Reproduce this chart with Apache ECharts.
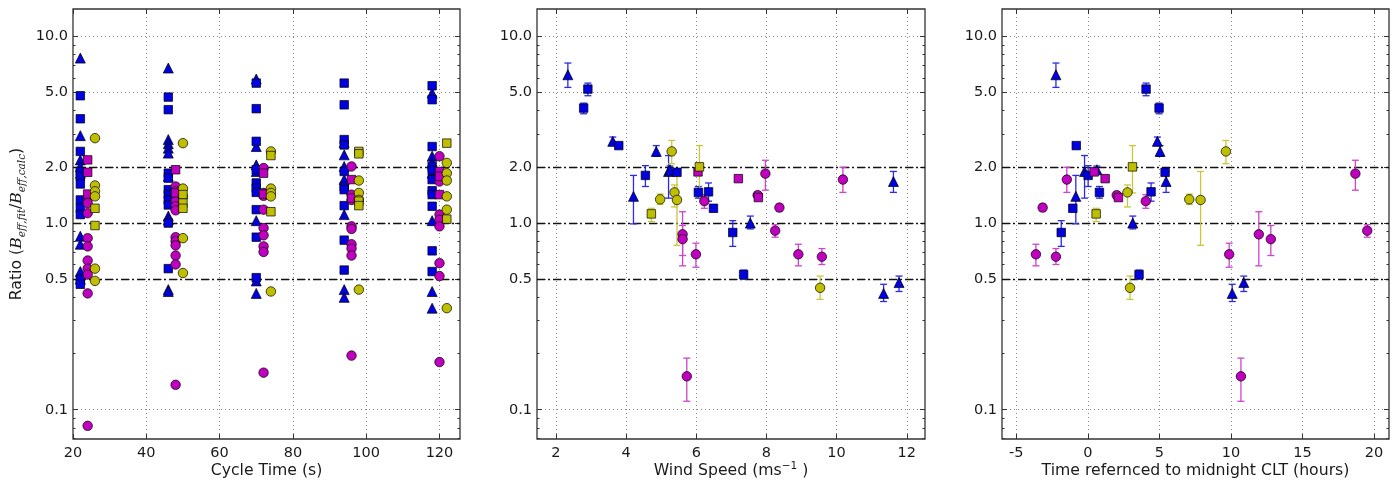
<!DOCTYPE html>
<html><head><meta charset="utf-8">
<script src="https://cdn.jsdelivr.net/npm/echarts@6/dist/echarts.min.js"></script>
<style>html,body{margin:0;padding:0;background:#fff}#c{width:1400px;height:483px}</style>
</head><body><div id="c"></div>
<script>
// ---------- axis ticks ----------
const yTicks = [0.1, 0.5, 1, 2, 5, 10];
const yMinorTicks = [0.07, 0.08, 0.09, 0.2, 0.3, 0.4, 0.6, 0.7, 0.8, 0.9, 3, 4, 6, 7, 8, 9];
const refLines = [0.5, 1, 2];
const cycleTicks = [20, 40, 60, 80, 100, 120];
const windTicks = [2, 4, 6, 8, 10, 12];
const timeTicks = [-5, 0, 5, 10, 15, 20];

// ---------- panel 1: cycle time (s) vs ratio : [cycle, ratio] ----------
const cycleBlueTri = [
  [22,7.65],[22,2.94],[22,2.18],[22,2.01],[22,1.85],[22,0.85],[22,0.77],[22,0.55],[22,0.50],
  [46,6.77],[46,2.80],[46,2.66],[46,2.52],[46,2.37],[46,1.78],[46,1.09],[46,1.04],[46,0.44],[46,0.43],
  [70,5.91],[70,2.57],[70,2.05],[70,1.89],[70,1.03],[70,0.49],[70,0.42],
  [94,2.70],[94,2.32],[94,2.01],[94,1.71],[94,1.11],[94,0.44],[94,0.40],
  [118,4.97],[118,2.28],[118,2.10],[118,1.85],[118,1.03],[118,0.43],[118,0.35]
];
const cycleBlueSq = [
  [22,4.81],[22,3.62],[22,2.42],[22,1.89],[22,1.78],[22,1.62],[22,1.33],[22,1.20],[22,1.11],[22,0.50],[22,0.47],
  [46,4.73],[46,4.05],[46,1.85],[46,1.74],[46,1.51],[46,1.42],[46,1.33],[46,1.25],[46,1.00],[46,0.57],
  [70,5.62],[70,4.10],[70,2.74],[70,1.93],[70,1.64],[70,1.54],[70,1.46],[70,1.18],[70,0.84],[70,0.51],
  [94,5.62],[94,4.30],[94,2.80],[94,2.62],[94,1.89],[94,1.57],[94,1.51],[94,1.24],[94,0.81],[94,0.56],
  [118,5.44],[118,4.58],[118,2.57],[118,2.01],[118,1.92],[118,1.71],[118,1.49],[118,1.42],[118,1.23],[118,0.71],[118,0.55]
];
const cycleMagCirc = [
  [24,1.35],[24,1.28],[24,1.13],[24,0.83],[24,0.75],[24,0.63],[24,0.57],[24,0.53],[24,0.42],[24,0.082],
  [48,1.57],[48,1.48],[48,1.39],[48,1.31],[48,1.23],[48,1.17],[48,0.84],[48,0.80],[48,0.76],[48,0.67],[48,0.60],[48,0.136],
  [72,1.97],[72,1.45],[72,1.40],[72,1.18],[72,0.94],[72,0.86],[72,0.75],[72,0.70],[72,0.158],
  [96,2.01],[96,1.42],[96,1.33],[96,0.96],[96,0.93],[96,0.77],[96,0.73],[96,0.67],[96,0.195],
  [120,2.28],[120,1.85],[120,1.67],[120,1.11],[120,1.04],[120,0.96],[120,0.61],[120,0.52],[120,0.18]
];
const cycleMagSq = [
  [24,2.18],[24,1.87],[24,1.43],
  [48,1.93],[48,1.45],
  [72,1.85],[72,1.43],
  [96,1.71],[96,1.36],
  [120,1.89],[120,1.78],[120,1.42]
];
const cycleYelCirc = [
  [26,2.85],[26,1.59],[26,1.48],[26,1.39],[26,0.57],[26,0.49],
  [50,2.68],[50,1.53],[50,1.39],[50,0.83],[50,0.54],
  [74,2.42],[74,1.53],[74,1.45],[74,1.39],[74,0.43],
  [98,1.69],[98,1.45],[98,1.33],[98,0.44],
  [122,2.10],[122,1.85],[122,1.69],[122,1.39],[122,1.18],[122,0.35]
];
const cycleYelSq = [
  [26,1.20],[26,0.97],
  [50,1.42],[50,1.28],[50,1.20],
  [74,2.30],[74,1.15],
  [98,2.42],[98,2.35],[98,1.31],[98,1.24],
  [122,2.68],[122,1.05]
];

// ---------- panels 2 & 3: [wind speed, time (h), ratio, err low, err high] ----------
const blueTri = [
  [2.34,-2.23,6.23,5.33,7.20],[3.62,4.86,2.74,2.60,2.89],[4.86,5.05,2.42,2.28,2.60],
  [4.21,-0.84,1.39,0.99,1.80],[5.21,-0.23,1.89,1.36,2.30],[5.25,0.63,1.93,1.85,2.02],
  [7.54,3.14,1.00,0.93,1.09],[11.34,10.09,0.42,0.38,0.47],[11.78,10.90,0.48,0.43,0.52],
  [11.62,5.47,1.67,1.46,1.89]
];
const blueSq = [
  [2.79,4.98,4.13,3.85,4.39],[2.91,4.07,5.22,4.81,5.62],[3.79,-0.81,2.60,2.52,2.68],
  [4.55,0.02,1.80,1.57,2.03],[5.45,5.40,1.87,1.80,1.95],[6.06,0.81,1.46,1.36,1.57],
  [6.35,4.42,1.47,1.31,1.64],[6.49,-1.05,1.20,1.15,1.25],[7.04,-1.86,0.89,0.75,1.03],
  [7.35,3.58,0.53,0.50,0.56]
];
const magCirc = [
  [8.91,-3.63,0.68,0.59,0.77],[8.37,-3.16,1.21,1.16,1.26],[9.58,-2.23,0.66,0.60,0.73],
  [10.18,-1.47,1.71,1.46,1.99],[7.75,2.02,1.41,1.35,1.47],[6.23,4.05,1.31,1.20,1.42],
  [5.99,9.88,0.68,0.58,0.78],[5.73,10.70,0.151,0.111,0.189],[5.61,11.95,0.87,0.59,1.15],
  [5.61,12.79,0.82,0.67,0.97],[7.97,18.70,1.84,1.50,2.17],[8.25,19.53,0.91,0.84,0.98]
];
const magSq = [
  [6.05,0.44,1.88,1.80,1.97],[7.20,1.21,1.73,1.68,1.78],[7.77,2.14,1.37,1.33,1.41]
];
const yelCirc = [
  [5.38,2.77,1.46,1.22,1.60],[9.53,2.95,0.45,0.39,0.52],[4.97,7.09,1.34,1.26,1.43],
  [5.45,7.88,1.33,0.76,1.89],[5.30,9.65,2.42,2.08,2.77]
];
const yelSq = [
  [4.72,0.58,1.12,1.02,1.20],[6.09,3.12,2.00,1.45,2.60]
];

// ---------- styling ----------
const COL = { blue: '#0000e0', mag: '#bf00bf', yel: '#bfbf00' };
const ERRCOL = { blue: '#2a2ae8', mag: '#cc44cc', yel: '#c8c83a' };
const FONT = 'DejaVu Sans';
const TXT = '#1a1a1a';
const TICKFS = 14.5, NAMEFS = 15.7;
const YMIN = 0.0697, YMAX = 14.02;

const grids = [
  { left: 73, top: 9, width: 387, height: 430 },
  { left: 537, top: 9, width: 388, height: 430 },
  { left: 1002, top: 9, width: 387, height: 430 }
].map(g => Object.assign({ show: true, containLabel: false, outerBoundsMode: 'none',
  borderColor: '#333', borderWidth: 1.3, backgroundColor: 'transparent' }, g));

const xAxes = [], yAxes = [];
function addAxes(g, xmin, xmax, xt, name, nameRich, nameGap, showYName) {
  xAxes.push({
    type: 'value', gridIndex: g, min: xmin, max: xmax, position: 'bottom',
    axisLine: { show: false, onZero: false },
    axisTick: { inside: true, length: 5, customValues: xt, lineStyle: { color: '#333' } },
    axisLabel: { customValues: xt, fontSize: TICKFS, color: TXT, fontFamily: FONT, margin: 7 },
    splitLine: { show: true, lineStyle: { color: '#8a8a8a', type: [1, 3], width: 1 } },
    name: name, nameLocation: 'middle', nameGap: nameGap, nameMoveOverlap: false,
    nameTextStyle: { fontSize: NAMEFS, color: TXT, fontFamily: FONT, rich: nameRich }
  });
  xAxes.push({
    type: 'value', gridIndex: g, min: xmin, max: xmax, position: 'top',
    axisLine: { show: false, onZero: false },
    axisTick: { inside: true, length: 5, customValues: xt, lineStyle: { color: '#333' } },
    axisLabel: { show: false }, splitLine: { show: false }
  });
  const base = { type: 'log', logBase: 10, gridIndex: g, min: YMIN, max: YMAX,
                 axisLine: { show: false, onZero: false } };
  const yMain = Object.assign({}, base, {
    position: 'left',
    axisTick: { inside: true, length: 5, customValues: yTicks, lineStyle: { color: '#333' } },
    axisLabel: { customValues: yTicks, fontSize: TICKFS, color: TXT, fontFamily: FONT, margin: 5,
                 formatter: v => Number(v).toFixed(1) },
    splitLine: { show: true, lineStyle: { color: '#8a8a8a', type: [1, 3], width: 1 } }
  });
  if (showYName) {
    Object.assign(yMain, {
      name: '{t|Ratio (}{b|B}{s|eff,fit}{t|/}{b|B}{s|eff,calc}{t|)}',
      nameLocation: 'middle', nameGap: 45, nameRotate: 90, nameMoveOverlap: false,
      nameTextStyle: { fontSize: NAMEFS, color: TXT, fontFamily: FONT, rich: {
        t: { fontSize: NAMEFS, fontFamily: FONT, color: TXT, lineHeight: 22, verticalAlign: 'middle' },
        b: { fontSize: NAMEFS, fontFamily: 'DejaVu Serif', fontStyle: 'italic', color: TXT, lineHeight: 22, verticalAlign: 'middle' },
        s: { fontSize: 10.5, fontFamily: 'DejaVu Serif', fontStyle: 'italic', color: TXT, lineHeight: 22, verticalAlign: 'bottom' }
      } }
    });
  }
  yAxes.push(yMain);
  yAxes.push(Object.assign({}, base, { position: 'right',
    axisTick: { inside: true, length: 5, customValues: yTicks, lineStyle: { color: '#333' } },
    axisLabel: { show: false }, splitLine: { show: false } }));
  yAxes.push(Object.assign({}, base, { position: 'left',
    axisTick: { inside: true, length: 2.5, customValues: yMinorTicks, lineStyle: { color: '#333' } },
    axisLabel: { show: false }, splitLine: { show: false } }));
  yAxes.push(Object.assign({}, base, { position: 'right',
    axisTick: { inside: true, length: 2.5, customValues: yMinorTicks, lineStyle: { color: '#333' } },
    axisLabel: { show: false }, splitLine: { show: false } }));
}

addAxes(0, 20, 125.6, cycleTicks, 'Cycle Time (s)', {}, 24, true);
addAxes(1, 1.46, 12.52, windTicks, '{t|Wind Speed (ms}{p|−1}{t| )}', {
  t: { fontSize: NAMEFS, fontFamily: FONT, color: TXT, lineHeight: 20, verticalAlign: 'middle' },
  p: { fontSize: 10.5, fontFamily: FONT, color: TXT, lineHeight: 20, verticalAlign: 'top' }
}, 22, false);
addAxes(2, -6, 21.05, timeTicks, 'Time refernced to midnight CLT (hours)', {}, 24, false);

const SYM = { tri: ['triangle', 10], sq: ['rect', 8.5], circ: ['circle', 9.5] };
function scatter(g, data, shape, color, extra) {
  return Object.assign({
    type: 'scatter', xAxisIndex: 2 * g, yAxisIndex: 4 * g, data: data,
    symbol: SYM[shape][0], symbolSize: SYM[shape][1], z: 3, silent: true,
    itemStyle: { color: color, borderColor: '#000', borderWidth: 0.7, opacity: 1 }
  }, extra || {});
}
function refLineMark() {
  return { silent: true, symbol: 'none', z: 1, label: { show: false },
    lineStyle: { color: '#111', width: 1.4, type: [8, 3, 2, 3] },
    data: refLines.map(v => ({ yAxis: v })) };
}
function errBars(g, recs, xCol, color) {
  return {
    type: 'custom', xAxisIndex: 2 * g, yAxisIndex: 4 * g, silent: true, z: 2,
    data: recs.map(r => [r[xCol], r[3], r[4]]),
    encode: { x: 0, y: [1, 2] },
    renderItem: function (params, api) {
      const x = api.value(0), lo = api.value(1), hi = api.value(2);
      const a = api.coord([x, lo]), b = api.coord([x, hi]);
      const w = 3.5, st = { stroke: color, lineWidth: 1.3, fill: null };
      return { type: 'group', children: [
        { type: 'line', shape: { x1: a[0], y1: a[1], x2: b[0], y2: b[1] }, style: st },
        { type: 'line', shape: { x1: a[0] - w, y1: a[1], x2: a[0] + w, y2: a[1] }, style: st },
        { type: 'line', shape: { x1: b[0] - w, y1: b[1], x2: b[0] + w, y2: b[1] }, style: st }
      ] };
    }
  };
}

const series = [];
// panel 1
series.push(scatter(0, cycleBlueTri, 'tri', COL.blue, { markLine: refLineMark() }));
series.push(scatter(0, cycleBlueSq, 'sq', COL.blue));
series.push(scatter(0, cycleMagCirc, 'circ', COL.mag));
series.push(scatter(0, cycleMagSq, 'sq', COL.mag));
series.push(scatter(0, cycleYelCirc, 'circ', COL.yel));
series.push(scatter(0, cycleYelSq, 'sq', COL.yel));
// panels 2 & 3
[[1, 0], [2, 1]].forEach(([g, xc]) => {
  const groups = [
    [blueTri, 'tri', 'blue'], [blueSq, 'sq', 'blue'],
    [magCirc, 'circ', 'mag'], [magSq, 'sq', 'mag'],
    [yelCirc, 'circ', 'yel'], [yelSq, 'sq', 'yel']
  ];
  groups.forEach(([recs, shape, c], i) => {
    series.push(errBars(g, recs, xc, ERRCOL[c]));
    series.push(scatter(g, recs.map(r => [r[xc], r[2]]), shape, COL[c],
      i === 0 ? { markLine: refLineMark() } : {}));
  });
});

const chart = echarts.init(document.getElementById('c'), null, { renderer: 'canvas' });
chart.setOption({
  animation: false, backgroundColor: '#fff',
  grid: grids, xAxis: xAxes, yAxis: yAxes, series: series
});
</script></body></html>
